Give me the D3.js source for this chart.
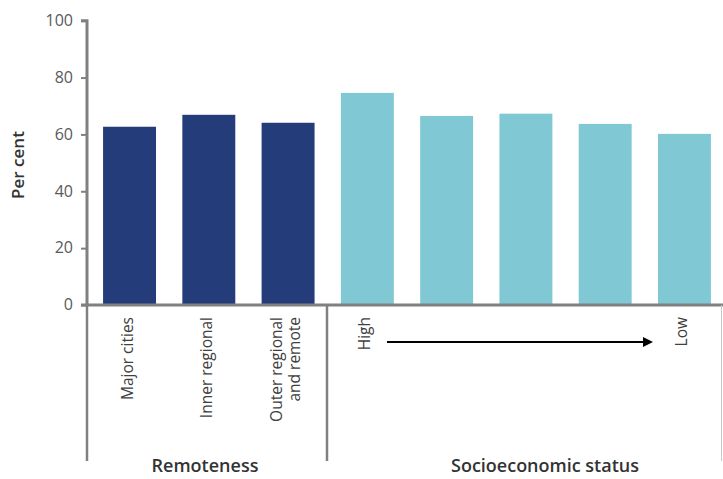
<!DOCTYPE html>
<html><head><meta charset="utf-8">
<script src="https://cdn.jsdelivr.net/npm/d3@7"></script>
<style>body{margin:0;background:#fff}text{font-family:"Open Sans",Lato,sans-serif}</style>
</head><body><svg id="c" width="723" height="479"></svg>
<script>
const categories = ["Major cities","Inner regional","Outer regional and remote","SES1","SES2","SES3","SES4","SES5"];
const values = [62.7, 66.9, 64.1, 74.6, 66.5, 67.3, 63.7, 60.2];
const groups = ["Remoteness","Remoteness","Remoteness","SES","SES","SES","SES","SES"];
const catLabels = [["Major cities"],["Inner regional"],["Outer regional","and remote"],["High"],[],[],[],["Low"]];
const yTicks = [0,20,40,60,80,100];
const groupLabels = ["Remoteness","Socioeconomic status"];
const colors = {Remoteness:"#243c7a", SES:"#80c9d4"};

const svg = d3.select("#c");
const x = d3.scaleBand().domain(categories).range([88,726]).paddingInner(0.332).paddingOuter(0.19);
const y = d3.scaleLinear().domain([0,100]).range([305,20.7]);
const axisCol = "#808080";

svg.selectAll("rect.bar").data(values).join("rect").attr("class","bar")
  .attr("x",(d,i)=>x(categories[i])).attr("width",x.bandwidth())
  .attr("y",d=>y(d)).attr("height",d=>y(0)-y(d))
  .attr("fill",(d,i)=>colors[groups[i]]);

const ya = svg.append("g").attr("transform","translate(87,0)")
  .call(d3.axisLeft(y).tickValues(yTicks).tickSize(6).tickPadding(8));
ya.select(".domain").attr("stroke",axisCol).attr("stroke-width",3).attr("d","M-6,"+y(100)+"H0V"+y(0));
ya.selectAll(".tick line").attr("stroke",axisCol).attr("stroke-width",2);
ya.selectAll(".tick text").attr("fill","#595959").style("font-size","16px").attr("dy","0.3em");

svg.append("line").attr("x1",81).attr("x2",723).attr("y1",y(0)).attr("y2",y(0)).attr("stroke",axisCol).attr("stroke-width",3);
[87,327].forEach(xx=>svg.append("line").attr("x1",xx).attr("x2",xx).attr("y1",y(0)).attr("y2",461).attr("stroke",axisCol).attr("stroke-width",2.5));
svg.append("line").attr("x1",721.5).attr("x2",721.5).attr("y1",y(0)).attr("y2",461).attr("stroke","#c8c8c8").attr("stroke-width",1);

categories.forEach((c,i)=>{
  const lines = catLabels[i]; if(!lines.length) return;
  const cx = x(c)+x.bandwidth()/2 - (lines.length-1)*9 ;
  const t = svg.append("text").attr("transform",`translate(${cx-2},317) rotate(-90)`)
    .attr("text-anchor","end").attr("fill","#404040").style("font-size","15.5px");
  lines.forEach((l,j)=>t.append("tspan").attr("x",0).attr("dy",j?18:5).text(l));
});

svg.append("defs").append("marker").attr("id","ah").attr("viewBox","0 0 10 10").attr("refX",2).attr("refY",5)
  .attr("markerWidth",5).attr("markerHeight",5).attr("orient","auto")
  .append("path").attr("d","M0,0L10,5L0,10Z").attr("fill","#000");
svg.append("line").attr("x1",387).attr("x2",645).attr("y1",342).attr("y2",342).attr("stroke","#000").attr("stroke-width",2).attr("marker-end","url(#ah)");

svg.append("text").attr("x",205).attr("y",472).attr("text-anchor","middle").attr("fill","#333").style("font-size","18px").style("font-weight","600").text(groupLabels[0]);
svg.append("text").attr("x",545).attr("y",472).attr("text-anchor","middle").attr("fill","#333").style("font-size","18px").style("font-weight","600").text(groupLabels[1]);

svg.append("text").attr("transform","translate(24,165) rotate(-90)").attr("text-anchor","middle")
  .attr("fill","#333").style("font-size","17px").style("font-weight","600").text("Per cent");
</script></body></html>
